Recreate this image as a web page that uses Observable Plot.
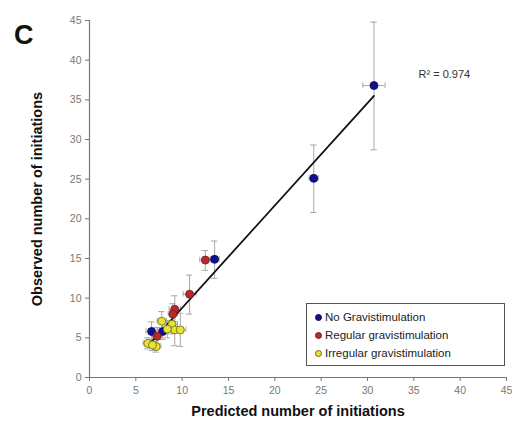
<!DOCTYPE html>
<html>
<head>
<meta charset="utf-8">
<script src="https://cdn.jsdelivr.net/npm/d3@7"></script>
<script src="https://cdn.jsdelivr.net/npm/@observablehq/plot@0.6"></script>
<style>
  html, body { margin: 0; padding: 0; background: #fff; }
  #wrap { position: relative; width: 514px; height: 429px; font-family: "Liberation Sans", Arial, sans-serif; }
  #panel { position: absolute; left: 14px; top: 20px; font-size: 27px; font-weight: bold; color: #111; }
  #legend { position: absolute; left: 306px; top: 303px; width: 199px; height: 63px; border: 1.5px solid #555; background: #fff; box-sizing: border-box; padding: 4px 0 0 8px; font-size: 11.5px; color: #222; }
  #legend div { display: flex; align-items: center; height: 18px; }
  #legend span.dot { display: inline-block; width: 7px; height: 7px; border-radius: 50%; margin-right: 3px; box-sizing: border-box; }
</style>
</head>
<body>
<div id="wrap"><div id="panel">C</div><div id="legend"></div></div>
<script>
// ---- data ----
const groups = ["No Gravistimulation", "Regular gravistimulation", "Irregular gravistimulation"];
const groupColors = ["#10108a", "#b8282c", "#e6e23a"];
const groupStroke = ["#0a0a5a", "#7a1a1c", "#6b6a10"];

const group     = [0, 0, 0, 0, 0,   1, 1, 1, 1, 1,   2, 2, 2, 2, 2, 2, 2, 2];
const predicted = [30.7, 24.2, 13.5, 6.7, 7.9,   12.5, 10.8, 9.2, 9.0, 7.3,   7.8, 8.9, 9.2, 9.8, 8.4, 6.3, 7.2, 6.8];
const observed  = [36.8, 25.1, 14.9, 5.8, 5.8,   14.8, 10.5, 8.6, 8.0, 5.2,   7.1, 6.7, 6.0, 6.0, 6.1, 4.3, 3.9, 4.1];
const obsLow    = [28.7, 20.8, 12.5, 4.6, 4.8,   13.5, 8.0, 7.0, 6.8, 4.2,   6.0, 5.5, 4.0, 3.9, 5.0, 3.6, 3.2, 3.4];
const obsHigh   = [44.8, 29.3, 17.2, 7.0, 7.0,   16.0, 12.9, 10.3, 9.3, 6.3,   8.3, 7.9, 8.0, 8.1, 7.2, 5.0, 4.6, 4.8];
const predErr   = [1.2, 0.5, 0.5, 0.6, 0.5,   0.6, 0.7, 0.6, 0.5, 0.5,   0.5, 0.6, 0.5, 0.6, 0.5, 0.5, 0.5, 0.4];

const fitX = [6.3, 30.7];
const fitY = [4.0, 35.5];
const rSquaredLabel = "R² = 0.974";
const ticks = [0, 5, 10, 15, 20, 25, 30, 35, 40, 45];

const rows = predicted.map((p, i) => ({
  g: groups[group[i]], gi: group[i], x: p, y: observed[i],
  lo: obsLow[i], hi: obsHigh[i], xe: predErr[i]
}));
const fit = fitX.map((x, i) => ({x, y: fitY[i]}));
const cap = 0.35;   // half-width of error-bar caps (x units)
const capY = 0.35;  // half-height of x-error caps (y units)
const errColor = "#a8a8a8";

const chart = Plot.plot({
  width: 514,
  height: 429,
  marginLeft: 89,
  marginRight: 8,
  marginTop: 20,
  marginBottom: 52,
  style: {fontFamily: "Liberation Sans, Arial, sans-serif", fontSize: "10.5px", color: "#555", background: "transparent"},
  x: {domain: [0, 45], ticks: ticks, label: "Predicted number of initiations"},
  y: {domain: [0, 45], ticks: ticks, label: "Observed number of initiations"},
  marks: [
    Plot.ruleX([0], {stroke: "#777", strokeWidth: 1.2}),
    Plot.ruleY([0], {stroke: "#777", strokeWidth: 1.2}),
    Plot.axisX({ticks: ticks, tickSize: 4, tickPadding: 5, stroke: "#777", fill: "#777", label: null}),
    Plot.axisY({ticks: ticks, tickSize: 4, tickPadding: 4, stroke: "#777", fill: "#777", label: null}),
    Plot.axisX({ticks: [], label: "Predicted number of initiations", labelAnchor: "center", labelArrow: "none", labelOffset: 38,
      fontSize: 14.5, fontWeight: "bold", fill: "#111", tickSize: 0}),
    Plot.axisY({ticks: [], label: "Observed number of initiations", labelAnchor: "center", labelArrow: "none", labelOffset: 58,
      fontSize: 14.5, fontWeight: "bold", fill: "#111", tickSize: 0}),
    // vertical error bars
    Plot.ruleX(rows, {x: "x", y1: "lo", y2: "hi", stroke: errColor, strokeWidth: 1}),
    Plot.ruleY(rows, {y: "lo", x1: d => d.x - cap, x2: d => d.x + cap, stroke: errColor}),
    Plot.ruleY(rows, {y: "hi", x1: d => d.x - cap, x2: d => d.x + cap, stroke: errColor}),
    // horizontal error bars
    Plot.ruleY(rows, {y: "y", x1: d => d.x - d.xe, x2: d => d.x + d.xe, stroke: errColor}),
    Plot.ruleX(rows, {x: d => d.x - d.xe, y1: d => d.y - capY, y2: d => d.y + capY, stroke: errColor}),
    Plot.ruleX(rows, {x: d => d.x + d.xe, y1: d => d.y - capY, y2: d => d.y + capY, stroke: errColor}),
    // fit line
    Plot.line(fit, {x: "x", y: "y", stroke: "#111", strokeWidth: 1.8}),
    // points
    Plot.dot(rows, {x: "x", y: "y", r: 4, fill: d => groupColors[d.gi], stroke: d => groupStroke[d.gi], strokeWidth: 0.8}),
    Plot.text([rSquaredLabel], {frameAnchor: "top-right", dx: -88, dy: 50, fontSize: 11, fill: "#333", textAnchor: "start"})
  ]
});
const wrap = document.getElementById("wrap");
wrap.insertBefore(chart, wrap.firstChild);

const legend = document.getElementById("legend");
groups.forEach((g, i) => {
  const row = document.createElement("div");
  const dot = document.createElement("span");
  dot.className = "dot";
  dot.style.background = groupColors[i];
  dot.style.border = "1px solid " + groupStroke[i];
  row.appendChild(dot);
  row.appendChild(document.createTextNode(g));
  legend.appendChild(row);
});
</script>
</body>
</html>
